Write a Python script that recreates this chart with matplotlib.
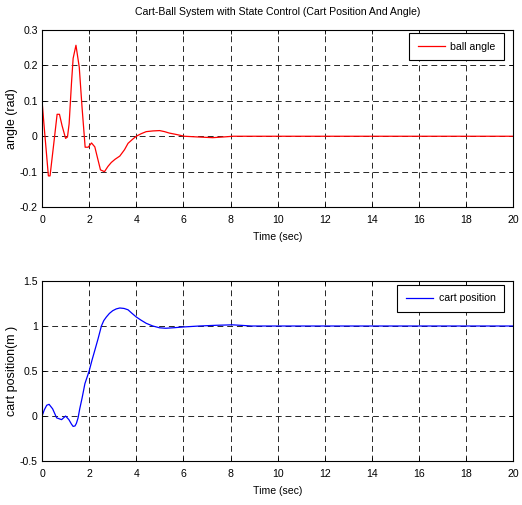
import matplotlib
matplotlib.use('Agg')
import matplotlib.pyplot as plt
from matplotlib import font_manager

# pick a narrow font if it exists, otherwise plain Liberation Sans
names = {f.name for f in font_manager.fontManager.ttflist}
font = 'Liberation Sans Narrow' if 'Liberation Sans Narrow' in names else 'Liberation Sans'
plt.rcParams['font.family'] = [font, 'DejaVu Sans']
fs = 7.6

# ball angle response (rad)
t_angle = [0, 0.1, 0.27, 0.34, 0.5, 0.64, 0.74, 0.85, 1.0, 1.08, 1.15, 1.25, 1.32, 1.44,
           1.58, 1.7, 1.83, 1.96, 2.1, 2.24, 2.35, 2.48, 2.65, 2.8, 2.94, 3.1, 3.3,
           3.5, 3.65, 3.85, 4.0, 4.2, 4.42, 4.7, 4.99, 5.2, 5.4, 5.7, 6.04, 6.6,
           7.24, 7.7, 8.1, 10, 20]
angle = [0.1, 0.02, -0.112, -0.112, -0.02, 0.062, 0.062, 0.03, -0.006, -0.002, 0.035,
         0.15, 0.22, 0.257, 0.195, 0.08, -0.031, -0.031, -0.019, -0.03, -0.06, -0.095,
         -0.1, -0.085, -0.074, -0.065, -0.056, -0.038, -0.02, -0.008, 0.0, 0.007, 0.013,
         0.015, 0.016, 0.013, 0.009, 0.005, 0.0, -0.002, -0.004, -0.002, 0.0, 0.0, 0.0]

# cart position response (m)
t_cart = [0, 0.1, 0.2, 0.3, 0.45, 0.62, 0.83, 1.0, 1.14, 1.25, 1.32, 1.4, 1.46, 1.53,
          1.6, 1.7, 1.82, 2.0, 2.12, 2.24, 2.38, 2.52, 2.62, 2.73, 2.86, 3.0, 3.15,
          3.3, 3.48, 3.65, 3.82, 4.0, 4.2, 4.42, 4.7, 4.99, 5.25, 5.55, 6.04, 6.68,
          7.4, 8.08, 8.9, 10, 20]
cart = [0, 0.07, 0.12, 0.13, 0.08, -0.02, -0.04, 0.0, -0.04, -0.09, -0.115, -0.11,
        -0.08, -0.02, 0.08, 0.2, 0.36, 0.5, 0.62, 0.73, 0.86, 1.0, 1.06, 1.1, 1.14,
        1.17, 1.19, 1.2, 1.195, 1.18, 1.14, 1.1, 1.065, 1.03, 1.0, 0.98, 0.975, 0.98,
        0.99, 1.0, 1.008, 1.013, 1.0, 1.0, 1.0]

angle_ticks = [-0.2, -0.1, 0, 0.1, 0.2, 0.3]
angle_labels = ['-0.2', '-0.1', '0', '0.1', '0.2', '0.3']
cart_ticks = [-0.5, 0, 0.5, 1, 1.5]
cart_labels = ['-0.5', '0', '0.5', '1', '1.5']
time_ticks = [0, 2, 4, 6, 8, 10, 12, 14, 16, 18, 20]

fig = plt.figure(figsize=(5.22, 5.05), dpi=100)
ax1 = fig.add_axes([0.0805, 0.590, 0.903, 0.3505])
ax2 = fig.add_axes([0.0805, 0.087, 0.903, 0.3566])


def style(ax):
    ax.set_xlim(0, 20)
    ax.set_xticks(time_ticks)
    ax.grid(True, color='black', linestyle=(0, (6, 4)), linewidth=0.7, alpha=0.85)
    ax.tick_params(direction='in', length=3, width=0.6, labelsize=fs, top=True, right=True)
    ax.tick_params(axis='x', pad=6)
    ax.tick_params(axis='y', pad=3)
    for sp in ax.spines.values():
        sp.set_linewidth(0.8)
    ax.set_xlabel('Time (sec)', fontsize=fs, labelpad=5)
    ax.yaxis.set_label_coords(-0.05, 0.5)


def add_legend(ax, anchor):
    leg = ax.legend(loc='upper right', bbox_to_anchor=anchor, borderaxespad=0,
                    fontsize=fs, fancybox=False, edgecolor='black', framealpha=1,
                    borderpad=0.8, handlelength=2.6, handletextpad=0.5)
    leg.get_frame().set_linewidth(0.8)


ax1.plot(t_angle, angle, color='red', linewidth=0.9, label='ball angle')
ax1.set_ylim(-0.2, 0.3)
ax1.set_yticks(angle_ticks)
ax1.set_yticklabels(angle_labels)
style(ax1)
ax1.set_ylabel('angle (rad)', fontsize=9)
ax1.set_title('Cart-Ball System with State Control (Cart Position And Angle)',
              fontsize=fs, pad=11)
add_legend(ax1, (0.98, 0.983))

ax2.plot(t_cart, cart, color='blue', linewidth=0.9, label='cart position')
ax2.set_ylim(-0.5, 1.5)
ax2.set_yticks(cart_ticks)
ax2.set_yticklabels(cart_labels)
style(ax2)
ax2.set_ylabel('cart position(m )', fontsize=9)
add_legend(ax2, (0.98, 0.978))

fig.savefig('out.png', dpi=100)
